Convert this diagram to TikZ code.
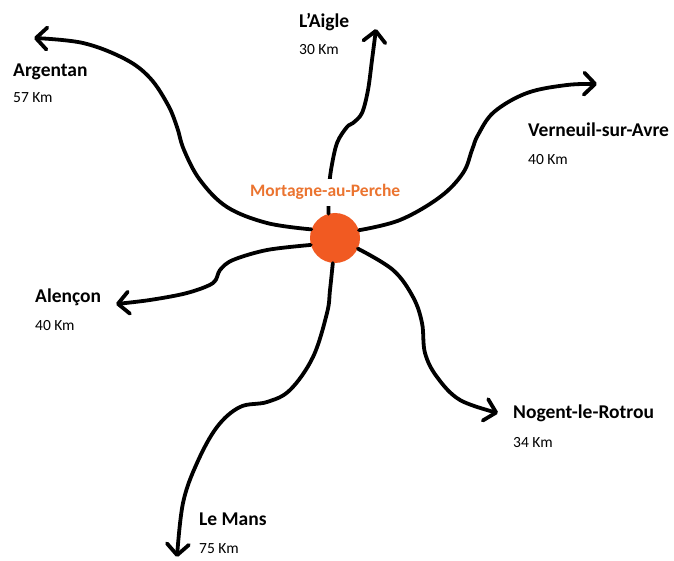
\documentclass[tikz,border=0pt]{standalone}
\usepackage{fontspec}
\setmainfont{Carlito}
\usetikzlibrary{arrows.meta}
\definecolor{circ}{HTML}{F15A22}
\definecolor{otext}{HTML}{EB7430}
\begin{document}
\begin{tikzpicture}[x=1pt,y=-1pt,
  road/.style={line width=3.8pt, line cap=round, line join=round,
    -{Straight Barb[length=11pt,width=22pt,round]}},
  city/.style={anchor=base west, inner sep=0pt, font=\fontsize{19.5}{20}\selectfont\bfseries},
  dist/.style={anchor=base west, inner sep=0pt, font=\fontsize{15.5}{16}\selectfont}]
\fill[white] (0,0) rectangle (674,561);
\useasboundingbox (0,0) rectangle (674,561);

\coordinate (ctr) at (335,238);
\coordinate (argT) at (34,38);
\coordinate (aigT) at (376,29);
\coordinate (verT) at (597,84);
\coordinate (aleT) at (116,304);
\coordinate (manT) at (177,557);
\coordinate (nogT) at (498,413);

\node[circle, fill=circ, minimum size=50pt, inner sep=0pt] (c) at (ctr) {};

\draw[road] plot[smooth, tension=0.6] coordinates {(c.160) (267,223) (227,207) (200,180) (184,150) (177,127) (168,105) (150,78) (125,59) (83,43) (argT)};
\draw[road] plot[smooth, tension=0.55] coordinates {(c.105) (329,190) (331,170) (337,143) (347,127) (353,123) (362,113) (368,90) (372,60) (aigT)};
\draw[road] plot[smooth, tension=0.6] coordinates {(c.18) (400,220) (440,197) (463,173) (472,150) (478,135) (494,112) (527,93) (567,85) (verT)};
\draw[road] plot[smooth, tension=0.55] coordinates {(c.196) (267,250) (233,260) (220,270) (213,283) (187,293) (150,300) (aleT)};
\draw[road] plot[smooth, tension=0.6] coordinates {(c.265) (330,290) (327,313) (313,357) (290,390) (267,402) (240,407) (217,427) (197,463) (183,503) (manT)};
\draw[road] plot[smooth, tension=0.6] coordinates {(c.335) (393,270) (413,297) (422,323) (425,353) (437,377) (460,400) (nogT)};

\node[anchor=base west, inner xsep=0pt, inner ysep=6pt, fill=white, text=otext,
  font=\fontsize{17.5}{18}\selectfont\bfseries] (mort) at (250,197) {Mortagne-au-Perche};

\node[city] (arg) at (13,77) {Argentan};
\node[dist] (argd) at (13,103) {57 Km};
\node[city] (aig) at (299,28) {L’Aigle};
\node[dist] (aigd) at (299,55) {30 Km};
\node[city] (ver) at (528,137) {Verneuil-sur-Avre};
\node[dist] (verd) at (528,165) {40 Km};
\node[city] (ale) at (35,302) {Alençon};
\node[dist] (aled) at (35,330) {40 Km};
\node[city] (man) at (199,525) {Le Mans};
\node[dist] (mand) at (199,553) {75 Km};
\node[city] (nog) at (513,418) {Nogent-le-Rotrou};
\node[dist] (nogd) at (513,447) {34 Km};
\end{tikzpicture}
\end{document}
